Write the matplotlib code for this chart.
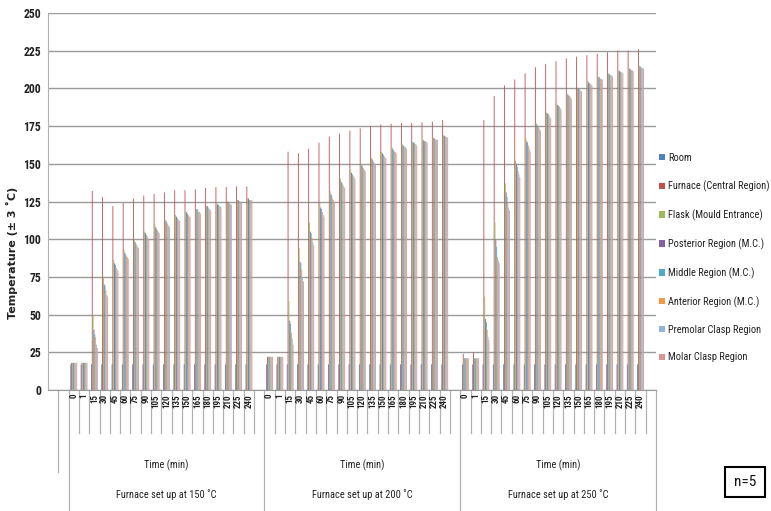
import matplotlib
matplotlib.use("Agg")
import matplotlib.pyplot as plt
import matplotlib.transforms as mtransforms
from matplotlib import font_manager
import numpy as np

# ---------------- data ----------------
times = ["0", "1", "15", "30", "45", "60", "75", "90", "105", "120", "135",
         "150", "165", "180", "195", "210", "225", "240"]
groups = ["Furnace set up at 150 \u02daC", "Furnace set up at 200 \u02daC",
          "Furnace set up at 250 \u02daC"]
series_names = ["Room", "Furnace (Central Region)", "Flask (Mould Entrance)",
                "Posterior Region (M.C.)", "Middle Region (M.C.)",
                "Anterior Region (M.C.)", "Premolar Clasp Region",
                "Molar Clasp Region"]
colors = ["#4F81BD", "#C0504D", "#9BBB59", "#8064A2", "#4BACC6",
          "#F79646", "#95B3D7", "#D99694"]

# 150 C
room_150 = [17, 17, 17, 17, 17, 17, 17, 17, 17, 17, 17, 17, 17, 17, 17, 17, 17, 17]
furnace_150 = [18, 18, 132, 128, 122, 124, 127, 129, 130, 131, 132.5, 132.5, 133, 134, 134.5, 134.5, 135, 135]
flask_150 = [18, 18, 50, 75, 86, 93, 100, 105, 110, 113, 116, 118, 120, 122, 124, 125, 126, 127]
posterior_150 = [18, 18, 40, 70, 84, 91, 98, 104, 108, 112, 115, 118, 120, 122, 123, 125, 126, 127]
middle_150 = [18, 18, 37, 69, 83, 90, 97, 103, 107, 111, 114, 117, 119, 121, 123, 124, 125, 126]
anterior_150 = [18, 18, 35, 66, 81, 89, 96, 102, 106, 110, 113, 116, 118, 120, 122, 124, 125, 126]
premolar_150 = [18, 18, 30, 63, 80, 88, 95, 101, 105, 109, 113, 115, 118, 120, 122, 123, 125, 126]
molar_150 = [18, 18, 28, 62, 79, 87, 94, 100, 104, 108, 112, 115, 117, 119, 121, 123, 124, 126]

# 200 C
room_200 = [17, 17, 17, 17, 17, 17, 17, 17, 17, 17, 17, 17, 17, 17, 17, 17, 17, 17]
furnace_200 = [22, 22, 158, 157, 160, 164, 168, 170, 172, 173.5, 175, 176, 176.5, 177, 177, 177.5, 178, 179]
flask_200 = [22, 22, 59, 94, 111, 124, 132, 140, 146, 150, 154, 158, 161, 163, 164.5, 166, 167.5, 169]
posterior_200 = [22, 22, 46, 85, 105, 121, 130, 138, 144, 149, 153, 157, 160, 162, 164, 165.5, 167, 168.5]
middle_200 = [22, 22, 44, 84, 104, 120, 129, 137, 143, 148, 152, 156, 159, 162, 164, 165, 166.5, 168]
anterior_200 = [22, 22, 38, 80, 101, 118, 127, 136, 142, 147, 151, 155, 158, 161, 163, 165, 166, 168]
premolar_200 = [22, 22, 34, 75, 98, 116, 126, 135, 141, 146, 150, 154, 158, 161, 163, 164.5, 166, 167.5]
molar_200 = [22, 22, 30, 72, 96, 115, 125, 134, 140, 145, 150, 154, 157, 160, 162, 164, 166, 167.5]

# 250 C
room_250 = [17, 17, 17, 17, 17, 17, 17, 17, 17, 17, 17, 17, 17, 17, 17, 17, 17, 17]
furnace_250 = [24, 25, 179, 195, 202, 206, 210, 214, 216, 218, 220, 221, 222, 223, 224, 225, 225, 226]
flask_250 = [21, 21, 62, 111, 137, 152, 167, 177, 184, 190, 196.5, 200.5, 205, 208, 210, 212, 213.5, 215]
posterior_250 = [21, 21, 47, 100, 131, 150, 165, 176, 183.5, 189, 196, 200, 204, 207.5, 209.5, 211.5, 213, 214.5]
middle_250 = [21, 21, 45, 95, 128, 148, 164, 175, 183, 188.5, 195, 199.5, 203.5, 207, 209, 211, 212.5, 214]
anterior_250 = [21, 21, 40, 88, 124, 145, 162, 174, 182, 188, 195, 199, 203, 206.5, 208.5, 210.5, 212, 213.5]
premolar_250 = [21, 21, 35, 86, 121, 143, 160, 173, 181, 187, 194, 198.5, 202.5, 206, 208.5, 210.5, 212, 213.5]
molar_250 = [21, 21, 33, 84, 119, 141, 158, 172, 180, 186, 193, 198, 202, 206, 208, 210, 211.5, 213]

data = {
    "Room": [room_150, room_200, room_250],
    "Furnace (Central Region)": [furnace_150, furnace_200, furnace_250],
    "Flask (Mould Entrance)": [flask_150, flask_200, flask_250],
    "Posterior Region (M.C.)": [posterior_150, posterior_200, posterior_250],
    "Middle Region (M.C.)": [middle_150, middle_200, middle_250],
    "Anterior Region (M.C.)": [anterior_150, anterior_200, anterior_250],
    "Premolar Clasp Region": [premolar_150, premolar_200, premolar_250],
    "Molar Clasp Region": [molar_150, molar_200, molar_250],
}
yticks = [0, 25, 50, 75, 100, 125, 150, 175, 200, 225, 250]

# ---------------- fonts ----------------
avail = {f.name for f in font_manager.fontManager.ttflist}
narrow = next((f for f in ["Liberation Sans Narrow", "Roboto Condensed", "Open Sans Condensed"] if f in avail), "DejaVu Sans")
plt.rcParams['font.family'] = [narrow, 'DejaVu Sans']

# ---------------- figure ----------------
W, H = 771, 511
fig = plt.figure(figsize=(W / 100, H / 100), dpi=100)
fig.patch.set_facecolor("white")

def fx(px):
    return px / W

def fy(py):
    return 1 - py / H

x_left, x_right = 48, 656
y_top, y_bot = 13, 390
ax = fig.add_axes([fx(x_left), fy(y_bot), fx(x_right) - fx(x_left), fy(y_top) - fy(y_bot)])

n_t = len(times)
slots_per_group = n_t + 1
ax.set_xlim(-2, slots_per_group * len(groups))
ax.set_ylim(0, 250)

bw = 0.082
for i, name in enumerate(series_names):
    xs, ys = [], []
    for g in range(len(groups)):
        for k in range(n_t):
            xs.append(g * slots_per_group + k + 0.5 + (i - 3.5) * bw)
            ys.append(data[name][g][k])
    bars = ax.bar(xs, ys, width=bw, color=colors[i], label=name, linewidth=0, zorder=3)
    for b in bars:
        b.set_snap(False)

ax.set_yticks(yticks)
ax.set_yticklabels([str(v) for v in yticks], fontsize=8.5, fontweight="bold", color="#222222")
ax.tick_params(axis="y", length=0, pad=5)
ax.set_xticks([])
ax.grid(axis="y", color="#9a9a9a", linewidth=1.0, zorder=0)
for s in ["top", "right"]:
    ax.spines[s].set_visible(False)
ax.spines["left"].set_color("#b0b0b0")
ax.spines["bottom"].set_color("#9a9a9a")

fig.text(fx(12), fy(253), "Temperature (\u00b1 3 \u02daC)", rotation=90, ha="center", va="center",
         fontsize=8, fontweight="bold", family="DejaVu Sans", color="#222222")

# ---------------- multi-level category axis ----------------
trans = mtransforms.blended_transform_factory(ax.transData, fig.transFigure)
line_col = "#b0b0b0"
for g in range(len(groups)):
    base = g * slots_per_group
    for k in range(1, n_t + 1):
        ax.plot([base + k, base + k], [fy(390), fy(433)], color=line_col, lw=0.9,
                transform=trans, clip_on=False)
    for k in range(n_t):
        ax.text(base + k + 0.5, fy(394), times[k], rotation=90, ha="center", va="top",
                fontsize=6.5, fontweight="bold", transform=trans, color="#222222")
    ax.text(base + slots_per_group / 2, fy(465), "Time (min)", ha="center", va="center",
            fontsize=7.5, transform=trans, color="#222222")
    ax.text(base + slots_per_group / 2, fy(495), groups[g], ha="center", va="center",
            fontsize=7.5, transform=trans, color="#222222")
for b in range(len(groups) + 1):
    xb = b * slots_per_group
    ax.plot([xb, xb], [fy(390), fy(510)], color=line_col, lw=0.9, transform=trans, clip_on=False)
ax.plot([-1, -1], [fy(390), fy(472)], color=line_col, lw=0.9, transform=trans, clip_on=False)

# ---------------- legend ----------------
leg = fig.legend(loc="upper left", bbox_to_anchor=(fx(659), fy(153)), frameon=False,
                 fontsize=7.5, handlelength=0.55, handleheight=0.55, handletextpad=0.35,
                 labelspacing=1.67, borderaxespad=0, borderpad=0)
for t in leg.get_texts():
    t.set_color("#222222")

# ---------------- n=5 box ----------------
fig.text(fx(745), fy(482), "n=5", ha="center", va="center", fontsize=11, color="#111111",
         bbox=dict(boxstyle="square,pad=0.55", facecolor="white", edgecolor="black", linewidth=1.5))

fig.savefig("out.png", dpi=100, facecolor="white")
